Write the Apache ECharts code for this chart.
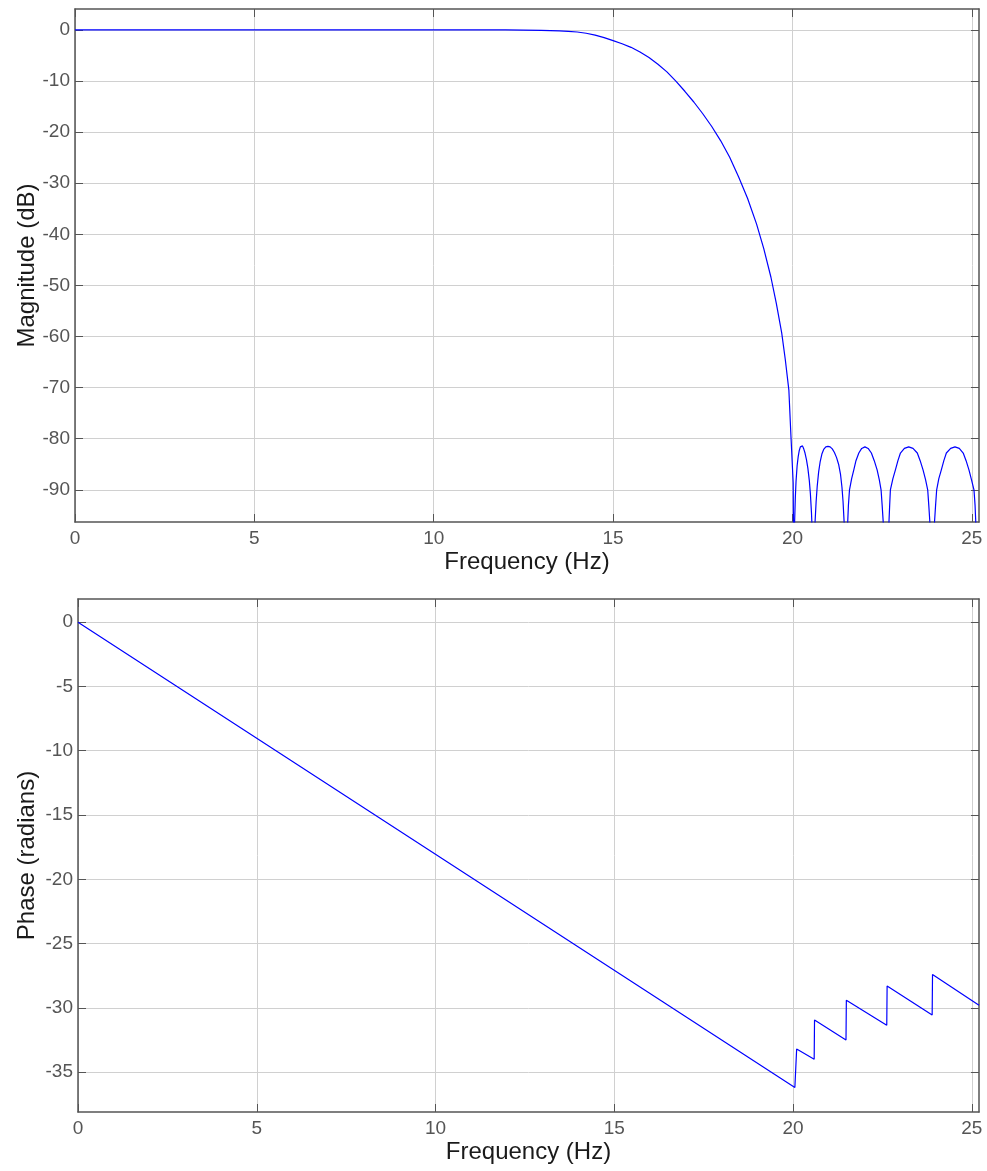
<!DOCTYPE html>
<html><head><meta charset="utf-8">
<script src="https://cdn.jsdelivr.net/npm/echarts@6/dist/echarts.min.js"></script>
<style>html,body{margin:0;padding:0;background:#fff}#c{width:987px;height:1171px}</style>
</head><body><div id="c"></div>
<script>
// Tick labels
const freqTicks = [0, 5, 10, 15, 20, 25];
const magTicks = [0, -10, -20, -30, -40, -50, -60, -70, -80, -90];
const phaseTicks = [0, -5, -10, -15, -20, -25, -30, -35];

// Magnitude response (Hz, dB)
const magPassband = [
  [0, 0], [2, 0], [4, 0], [6, 0], [8, 0], [10, 0], [12, 0], [12.5, -0.03], [13.0, -0.08],
  [13.5, -0.2], [13.75, -0.28], [14.0, -0.4], [14.25, -0.65], [14.5, -1.0], [14.75, -1.5],
  [15.0, -2.1], [15.25, -2.7], [15.5, -3.4], [15.75, -4.3], [16.0, -5.4], [16.25, -6.7],
  [16.5, -8.2], [16.75, -10.0], [17.0, -12.0], [17.25, -14.1], [17.5, -16.4], [17.75, -18.9],
  [18.0, -21.7], [18.25, -24.9], [18.5, -28.8], [18.75, -33.0], [19.0, -38.0], [19.2, -42.8],
  [19.4, -48.4], [19.55, -53.5], [19.7, -59.3], [19.8, -64.5], [19.9, -70.5], [19.96, -79.8],
  [20.02, -88.6], [20.05, -120]
];
const magLobe1 = [
  [20.06, -96.3], [20.08, -91.5], [20.1, -88.3], [20.13, -85.3], [20.16, -83.5], [20.19, -82.3],
  [20.22, -81.6], [20.25, -81.3], [20.28, -81.4], [20.31, -81.9], [20.35, -82.8], [20.39, -84.1],
  [20.43, -85.8], [20.47, -88.2], [20.5, -90.8], [20.53, -94.5], [20.55, -98], [20.58, -120]
];
const magLobe2 = [
  [20.63, -96.3], [20.66, -92.3], [20.69, -89.3], [20.73, -86.5], [20.77, -84.6], [20.82, -83.0],
  [20.87, -82.1], [20.93, -81.6], [20.99, -81.5], [21.05, -81.6], [21.11, -82.0], [21.17, -82.7],
  [21.23, -83.7], [21.29, -85.1], [21.34, -87.0], [21.38, -89.5], [21.41, -92.3], [21.44, -96.3],
  [21.48, -120]
];
const magLobe3 = [
  [21.54, -96.3], [21.56, -93], [21.59, -90], [21.65, -87.8], [21.71, -86.1], [21.77, -84.3],
  [21.85, -82.8], [21.93, -81.9], [22.02, -81.6], [22.11, -81.9], [22.2, -82.8], [22.28, -84.3],
  [22.36, -86.1], [22.42, -88], [22.47, -90], [22.5, -93], [22.53, -96.3], [22.61, -120]
];
const magLobe4 = [
  [22.69, -96.3], [22.71, -93], [22.73, -90], [22.8, -87.8], [22.87, -86.1], [22.94, -84.3],
  [23.01, -82.8], [23.12, -81.9], [23.24, -81.6], [23.36, -81.9], [23.48, -82.8], [23.56, -84.3],
  [23.64, -86.1], [23.71, -88], [23.77, -90], [23.8, -93], [23.83, -96.3], [23.88, -120]
];
const magLobe5 = [
  [23.96, -96.3], [23.99, -93], [24.02, -90], [24.08, -87.8], [24.15, -86.1], [24.22, -84.3],
  [24.29, -82.8], [24.41, -81.9], [24.53, -81.6], [24.65, -81.9], [24.76, -82.8], [24.84, -84.3],
  [24.92, -86.1], [24.99, -88], [25.06, -90], [25.09, -93], [25.11, -96.3], [25.16, -120]
];

// Phase response (Hz, radians) vertices
const phaseData = [
  [0, 0], [20.05, -36.2], [20.10, -33.2], [20.59, -34.0], [20.60, -30.95], [21.48, -32.5],
  [21.49, -29.4], [22.62, -31.36], [22.63, -28.3], [23.89, -30.56], [23.90, -27.4], [25.2, -29.8]
];

const magData = [].concat(magPassband, magLobe1, magLobe2, magLobe3, magLobe4, magLobe5);

const FONT = "'Liberation Sans', Arial, Helvetica, sans-serif";
const AX = '#555555';
const GRIDC = '#d0d0d0';
const LBL = '#555555';

function xAx(grid, pos, main) {
  return {
    type: 'value', gridIndex: grid, position: pos, min: 0, max: 25.2,
    name: main ? 'Frequency (Hz)' : '', nameLocation: 'middle', nameGap: 28,
    nameTextStyle: { fontFamily: FONT, fontSize: 24, color: '#1a1a1a' },
    axisLine: { show: true, onZero: false, lineStyle: { color: AX, width: 1.5 } },
    axisTick: { show: true, inside: true, length: 8, customValues: freqTicks, lineStyle: { color: AX } },
    axisLabel: { show: main, customValues: freqTicks, margin: 7, fontFamily: FONT, fontSize: 19, color: LBL },
    splitLine: { show: main, lineStyle: { color: GRIDC, width: 1 } }
  };
}
function yAx(grid, pos, main, min, max, ticks, name, gap) {
  return {
    type: 'value', gridIndex: grid, position: pos, min: min, max: max,
    name: main ? name : '', nameLocation: 'middle', nameGap: gap, nameRotate: 90,
    nameMoveOverlap: false,
    nameTextStyle: { fontFamily: FONT, fontSize: 24, color: '#1a1a1a' },
    axisLine: { show: true, onZero: false, lineStyle: { color: AX, width: 1.5 } },
    axisTick: { show: true, inside: true, length: 8, customValues: ticks, lineStyle: { color: AX } },
    axisLabel: { show: main, customValues: ticks, margin: 5, fontFamily: FONT, fontSize: 19, color: LBL },
    splitLine: { show: main, lineStyle: { color: GRIDC, width: 1 } }
  };
}

const chart = echarts.init(document.getElementById('c'), null, { renderer: 'canvas' });
chart.setOption({
  animation: false,
  backgroundColor: '#ffffff',
  grid: [
    { left: 75, top: 9, width: 904, height: 513 },
    { left: 78, top: 599, width: 901, height: 513 }
  ],
  xAxis: [xAx(0, 'bottom', true), xAx(0, 'top', false), xAx(1, 'bottom', true), xAx(1, 'top', false)],
  yAxis: [
    yAx(0, 'left', true, -96.3, 4.1, magTicks, 'Magnitude (dB)', 36),
    yAx(0, 'right', false, -96.3, 4.1, magTicks, '', 36),
    yAx(1, 'left', true, -38.1, 1.8, phaseTicks, 'Phase (radians)', 39),
    yAx(1, 'right', false, -38.1, 1.8, phaseTicks, '', 39)
  ],
  series: [
    { type: 'line', xAxisIndex: 0, yAxisIndex: 0, data: magData, showSymbol: false, clip: true,
      lineStyle: { color: '#0000ff', width: 1.2 } },
    { type: 'line', xAxisIndex: 2, yAxisIndex: 2, data: phaseData, showSymbol: false, clip: true,
      lineStyle: { color: '#0000ff', width: 1.2 } }
  ]
});
</script>
</body></html>
